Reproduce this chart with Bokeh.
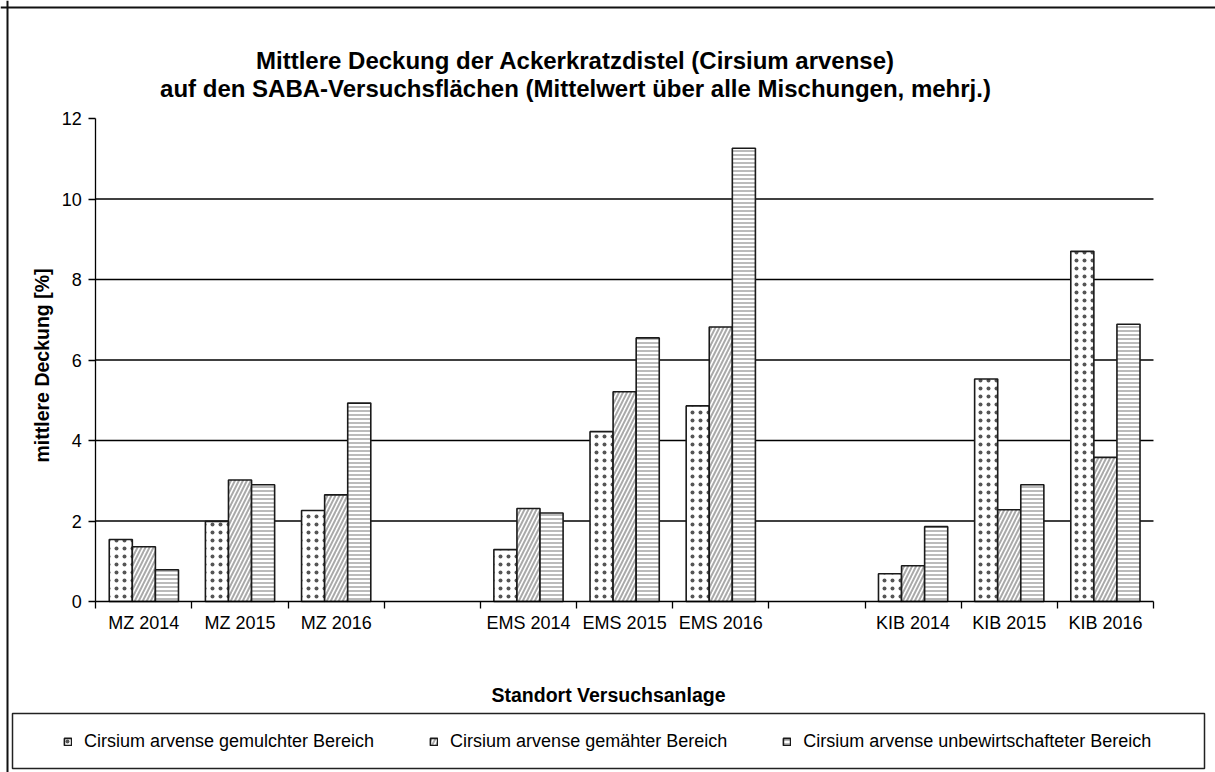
import math
from bokeh.plotting import figure
from bokeh.models import (ColumnDataSource, Range1d, LinearAxis, FixedTicker,
                          Legend, LegendItem, Label, BoxAnnotation, Span)
from bokeh.transform import dodge
from bokeh.core.properties import value
from bokeh.embed import file_html
from bokeh.resources import INLINE

# ---------------- data ----------------
x_factors = ["MZ 2014", "MZ 2015", "MZ 2016", "",
             "EMS 2014", "EMS 2015", "EMS 2016", "",
             "KIB 2014", "KIB 2015", "KIB 2016"]
sites = ["MZ 2014", "MZ 2015", "MZ 2016",
         "EMS 2014", "EMS 2015", "EMS 2016",
         "KIB 2014", "KIB 2015", "KIB 2016"]
gemulcht = [1.54, 1.99, 2.26, 1.29, 4.22, 4.86, 0.69, 5.53, 8.70]
gemaeht = [1.36, 3.02, 2.65, 2.31, 5.21, 6.82, 0.89, 2.28, 3.58]
unbewirtschaftet = [0.79, 2.90, 4.93, 2.20, 6.55, 11.26, 1.86, 2.90, 6.89]
y_ticks = [0, 2, 4, 6, 8, 10, 12]
grid_ticks = [2, 4, 6, 8, 10]
series_labels = ["Cirsium arvense gemulchter Bereich",
                 "Cirsium arvense gemähter Bereich",
                 "Cirsium arvense unbewirtschafteter Bereich"]
title_lines = ["Mittlere Deckung der Ackerkratzdistel (Cirsium arvense)",
               "auf den SABA-Versuchsflächen (Mittelwert über alle Mischungen, mehrj.)"]
x_title = "Standort Versuchsanlage"
y_title = "mittlere Deckung [%]"

FONT = "Liberation Sans"
W, H = 1215, 772

n = len(x_factors)
slot_pos = {}
for i, f in enumerate(x_factors):
    if f:
        slot_pos[f] = i + 0.5
xc = [slot_pos[s] for s in sites]

src = ColumnDataSource(dict(xc=xc, mulch=gemulcht, maeh=gemaeht, unbew=unbewirtschaftet))
gsrc = ColumnDataSource(dict(x0=[0] * len(grid_ticks), x1=[n] * len(grid_ticks), y=grid_ticks))

# the frame covers the whole canvas; the plot area is the 0..n / 0..12 data box
p = figure(width=W, height=H,
           x_range=Range1d(-0.991, n + 0.645), y_range=Range1d(-4.248, 14.932),
           output_backend="svg", toolbar_location=None,
           x_axis_location=None, y_axis_location=None, min_border=0)
p.outline_line_color = None
p.background_fill_color = "white"
p.border_fill_color = "white"
p.grid.visible = False

# horizontal grid lines (inside the plot area only)
p.segment(x0="x0", x1="x1", y0="y", y1="y", source=gsrc, line_color="black", line_width=1.3)

# y axis
yaxis = LinearAxis(fixed_location=0, bounds=(0, 12),
                   ticker=FixedTicker(ticks=y_ticks, minor_ticks=[]),
                   axis_line_color="black", axis_line_width=1.3,
                   major_tick_out=7, major_tick_in=0,
                   major_tick_line_color="black", major_tick_line_width=1.3,
                   minor_tick_line_color=None,
                   major_label_standoff=7,
                   major_label_text_font=FONT, major_label_text_font_size="18px",
                   major_label_text_color="black")
p.add_layout(yaxis, "left")

# x axis: labels at category centres, tick marks at category boundaries
centres = [i + 0.5 for i in range(n)]
bounds = [float(i) for i in range(n + 1)]
overrides = {c: f for c, f in zip(centres, x_factors)}
xaxis = LinearAxis(fixed_location=0, bounds=(0, n),
                   ticker=FixedTicker(ticks=centres, minor_ticks=bounds),
                   major_label_overrides=overrides,
                   axis_line_color="black", axis_line_width=1.3,
                   major_tick_line_color=None, major_tick_out=7, major_tick_in=0,
                   minor_tick_out=7, minor_tick_in=0,
                   minor_tick_line_color="black", minor_tick_line_width=1.3,
                   major_label_standoff=4,
                   major_label_text_font=FONT, major_label_text_font_size="18px",
                   major_label_text_color="black")
p.add_layout(xaxis, "below")

common = dict(source=src, width=0.24, fill_color="white",
              line_color="#1a1a1a", line_width=1.6)
r1 = p.vbar(x=dodge("xc", -0.24), top="mulch",
            hatch_pattern="dot", hatch_color="#555555", hatch_scale=8, hatch_weight=0.4, **common)
r2 = p.vbar(x=dodge("xc", 0.0), top="maeh",
            hatch_pattern="right_diagonal_line", hatch_color="#aaaaaa",
            hatch_scale=8, hatch_weight=2, **common)
r3 = p.vbar(x=dodge("xc", 0.24), top="unbew",
            hatch_pattern="horizontal_line", hatch_color="#bbbbbb",
            hatch_scale=4, hatch_weight=2, **common)

legend = Legend(items=[LegendItem(label=value(series_labels[0]), renderers=[r1]),
                       LegendItem(label=value(series_labels[1]), renderers=[r2]),
                       LegendItem(label=value(series_labels[2]), renderers=[r3])],
                orientation="horizontal", location=(63, 20.5),
                padding=0, margin=0, spacing=55, label_standoff=12,
                glyph_width=9, glyph_height=9, label_height=21,
                border_line_alpha=0, background_fill_alpha=0,
                label_text_font=FONT, label_text_font_size="18px",
                label_text_color="black")
p.add_layout(legend)

# legend frame (screen units: measured from the bottom-left corner)
p.add_layout(BoxAnnotation(left=12, right=1204, top=H - 713, bottom=H - 768,
                           left_units="screen", right_units="screen",
                           top_units="screen", bottom_units="screen",
                           fill_alpha=0, line_color="#222222", line_alpha=1.0, line_width=1.5))
# outer frame: only its top and left edges are inside the picture
p.add_layout(Span(location=7, dimension="height", location_units="screen",
                  line_color="#111111", line_width=2))
p.add_layout(Span(location=H - 7, dimension="width", location_units="screen",
                  line_color="#111111", line_width=2))

# texts
def add_text(x, y, text, size, angle=0.0):
    p.add_layout(Label(x=x, y=H - y, x_units="screen", y_units="screen", text=text,
                       angle=angle, text_font=FONT, text_font_size=size,
                       text_font_style="bold", text_align="center",
                       text_baseline="alphabetic", text_color="black"))

add_text(575, 59.5, title_lines[0], "24px")
add_text(575, 88, title_lines[1], "24px")
add_text(608, 694, x_title, "19.5px")
add_text(41.5, 365, y_title, "19.5px", angle=math.pi / 2)

open("out.html", "w").write(file_html(p, INLINE))
